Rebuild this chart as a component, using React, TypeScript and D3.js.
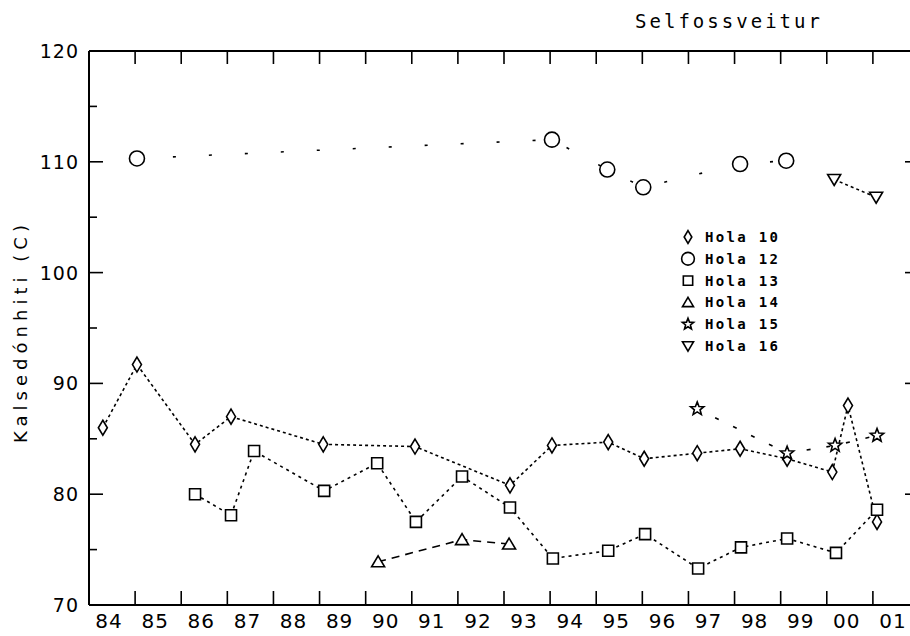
import React from 'react';
import * as d3 from 'd3';

// sample dates (decimal year) and chalcedony temperatures per well
const hola10Years = [1984.3, 1985.04, 1986.3, 1987.08, 1989.08, 1991.07, 1993.13, 1994.04, 1995.26, 1996.04, 1997.19, 1998.12, 1999.14, 2000.12, 2000.46, 2001.09];
const hola10 = [86.0, 91.7, 84.5, 87.0, 84.5, 84.3, 80.8, 84.4, 84.7, 83.2, 83.7, 84.1, 83.2, 82.0, 88.0, 77.5];

const hola12Years = [1985.04, 1994.04, 1995.24, 1996.02, 1998.12, 1999.12];
const hola12 = [110.3, 112.0, 109.3, 107.7, 109.8, 110.1];

const hola13Years = [1986.3, 1987.08, 1987.58, 1989.1, 1990.25, 1991.09, 1992.09, 1993.13, 1994.06, 1995.26, 1996.06, 1997.21, 1998.14, 1999.14, 2000.2, 2001.09];
const hola13 = [80.0, 78.1, 83.9, 80.3, 82.8, 77.5, 81.6, 78.8, 74.2, 74.9, 76.4, 73.3, 75.2, 76.0, 74.7, 78.6];

const hola14Years = [1990.27, 1992.09, 1993.11];
const hola14 = [73.9, 75.9, 75.5];

const hola15Years = [1997.19, 1999.14, 2000.18, 2001.09];
const hola15 = [87.7, 83.7, 84.4, 85.3];

const hola16Years = [2000.16, 2001.07];
const hola16 = [108.4, 106.8];

const yearLabels = ['84', '85', '86', '87', '88', '89', '90', '91', '92', '93', '94', '95', '96', '97', '98', '99', '00', '01'];
const yTicks = [70, 80, 90, 100, 110, 120];
const legendNames = ['Hola 10', 'Hola 12', 'Hola 13', 'Hola 14', 'Hola 15', 'Hola 16'];

type Shape = 'diamond' | 'circle' | 'square' | 'triangle' | 'star' | 'triangleDown';

function markerPath(shape: Shape, s = 1): string {
  const p = d3.path();
  if (shape === 'diamond') {
    p.moveTo(0, -7.5 * s); p.lineTo(4.5 * s, 0); p.lineTo(0, 7.5 * s); p.lineTo(-4.5 * s, 0); p.closePath();
  } else if (shape === 'circle') {
    p.moveTo(7.5 * s, 0); p.arc(0, 0, 7.5 * s, 0, Math.PI * 2);
  } else if (shape === 'square') {
    p.rect(-5.5 * s, -5.5 * s, 11 * s, 11 * s);
  } else if (shape === 'triangle') {
    p.moveTo(0, -6 * s); p.lineTo(6.5 * s, 5 * s); p.lineTo(-6.5 * s, 5 * s); p.closePath();
  } else if (shape === 'triangleDown') {
    p.moveTo(0, 6 * s); p.lineTo(6.5 * s, -5 * s); p.lineTo(-6.5 * s, -5 * s); p.closePath();
  } else {
    const outer = 7 * s, inner = 3 * s;
    for (let i = 0; i < 10; i++) {
      const r = i % 2 === 0 ? outer : inner;
      const a = -Math.PI / 2 + (i * Math.PI) / 5;
      if (i === 0) p.moveTo(r * Math.cos(a), r * Math.sin(a));
      else p.lineTo(r * Math.cos(a), r * Math.sin(a));
    }
    p.closePath();
  }
  return p.toString();
}

const series = [
  { years: hola10Years, vals: hola10, shape: 'diamond' as Shape, dash: '3 3' },
  { years: hola12Years, vals: hola12, shape: 'circle' as Shape, dash: '3 33' },
  { years: hola13Years, vals: hola13, shape: 'square' as Shape, dash: '3 4' },
  { years: hola14Years, vals: hola14, shape: 'triangle' as Shape, dash: '8 6' },
  { years: hola15Years, vals: hola15, shape: 'star' as Shape, dash: '4 16' },
  { years: hola16Years, vals: hola16, shape: 'triangleDown' as Shape, dash: '3 3' },
];

const App: React.FC = () => {
  const width = 910;
  const height = 636;
  const left = 89, right = 919, top = 51, bottom = 605;

  const x = d3.scaleLinear().domain([1984, 2002]).range([left, right]);
  const y = d3.scaleLinear().domain([70, 120]).range([bottom, top]);

  const line = d3.line<number>();
  const minor = d3.range(75, 120, 10);
  const yearTicks = d3.range(1985, 2002);

  return (
    <div style={{ position: 'absolute', left: 0, top: 0 }}>
      <svg width={width} height={height} style={{ display: 'block', background: '#fff' }}>
        {/* frame */}
        <g stroke="#000" strokeWidth={2} fill="none">
          <line x1={left} y1={top} x2={right} y2={top} />
          <line x1={left} y1={bottom} x2={right} y2={bottom} />
          <line x1={left} y1={top} x2={left} y2={bottom} />
          <line x1={right} y1={top} x2={right} y2={bottom} />
        </g>

        {/* ticks */}
        <g stroke="#000" strokeWidth={1.6}>
          {yearTicks.map(t => (
            <g key={t}>
              <line x1={x(t)} x2={x(t)} y1={bottom} y2={bottom - 14} />
              <line x1={x(t)} x2={x(t)} y1={top} y2={top + 13} />
            </g>
          ))}
          {yTicks.map(t => (
            <g key={t}>
              <line x1={left} x2={left + 14} y1={y(t)} y2={y(t)} />
              <line x1={right} x2={right - 14} y1={y(t)} y2={y(t)} />
            </g>
          ))}
          {minor.map(t => (
            <g key={t}>
              <line x1={left} x2={left + 8} y1={y(t)} y2={y(t)} />
              <line x1={right} x2={right - 8} y1={y(t)} y2={y(t)} />
            </g>
          ))}
        </g>

        {/* tick labels */}
        <g fontFamily="DejaVu Sans" fontSize={19} fill="#000">
          {yTicks.map(t => (
            <text key={t} x={79} y={y(t) + 7} textAnchor="end" letterSpacing={1}>{t}</text>
          ))}
          {yearLabels.map((lab, i) => (
            <text key={lab} x={x(1984 + i + 0.5) - 3} y={628} textAnchor="middle" fontSize={20} letterSpacing={1}>{lab}</text>
          ))}
        </g>

        {/* axis title and chart title */}
        <text transform="translate(27,334) rotate(-90)" textAnchor="middle" fontFamily="DejaVu Sans" fontSize={18}
          textLength={218} lengthAdjust="spacing">Kalsedónhiti (C)</text>
        <text x={635} y={28} fontFamily="DejaVu Sans Mono" fontSize={19} textLength={185} lengthAdjust="spacing">Selfossveitur</text>

        {/* series */}
        {series.map((s, i) => {
          const pts = s.years.map((yr, j) => [x(yr), y(s.vals[j])] as [number, number]);
          return (
            <g key={i}>
              <path d={line(pts) ?? ''} fill="none" stroke="#000" strokeWidth={1.6} strokeDasharray={s.dash} />
              {pts.map((p, j) => (
                <path key={j} d={markerPath(s.shape)} transform={`translate(${p[0]},${p[1]})`}
                  fill="#fff" stroke="#000" strokeWidth={1.6} />
              ))}
            </g>
          );
        })}

        {/* legend */}
        <g>
          {legendNames.map((name, i) => {
            const ly = 237 + i * 21.8;
            return (
              <g key={name}>
                <path d={markerPath(series[i].shape, 0.85)} transform={`translate(688,${ly})`} fill="#fff" stroke="#000" strokeWidth={1.6} />
                <text x={705} y={ly + 5} fontFamily="DejaVu Sans Mono" fontWeight="bold" fontSize={14}
                  textLength={73} lengthAdjust="spacing">{name}</text>
              </g>
            );
          })}
        </g>
      </svg>
    </div>
  );
};

export default App;
